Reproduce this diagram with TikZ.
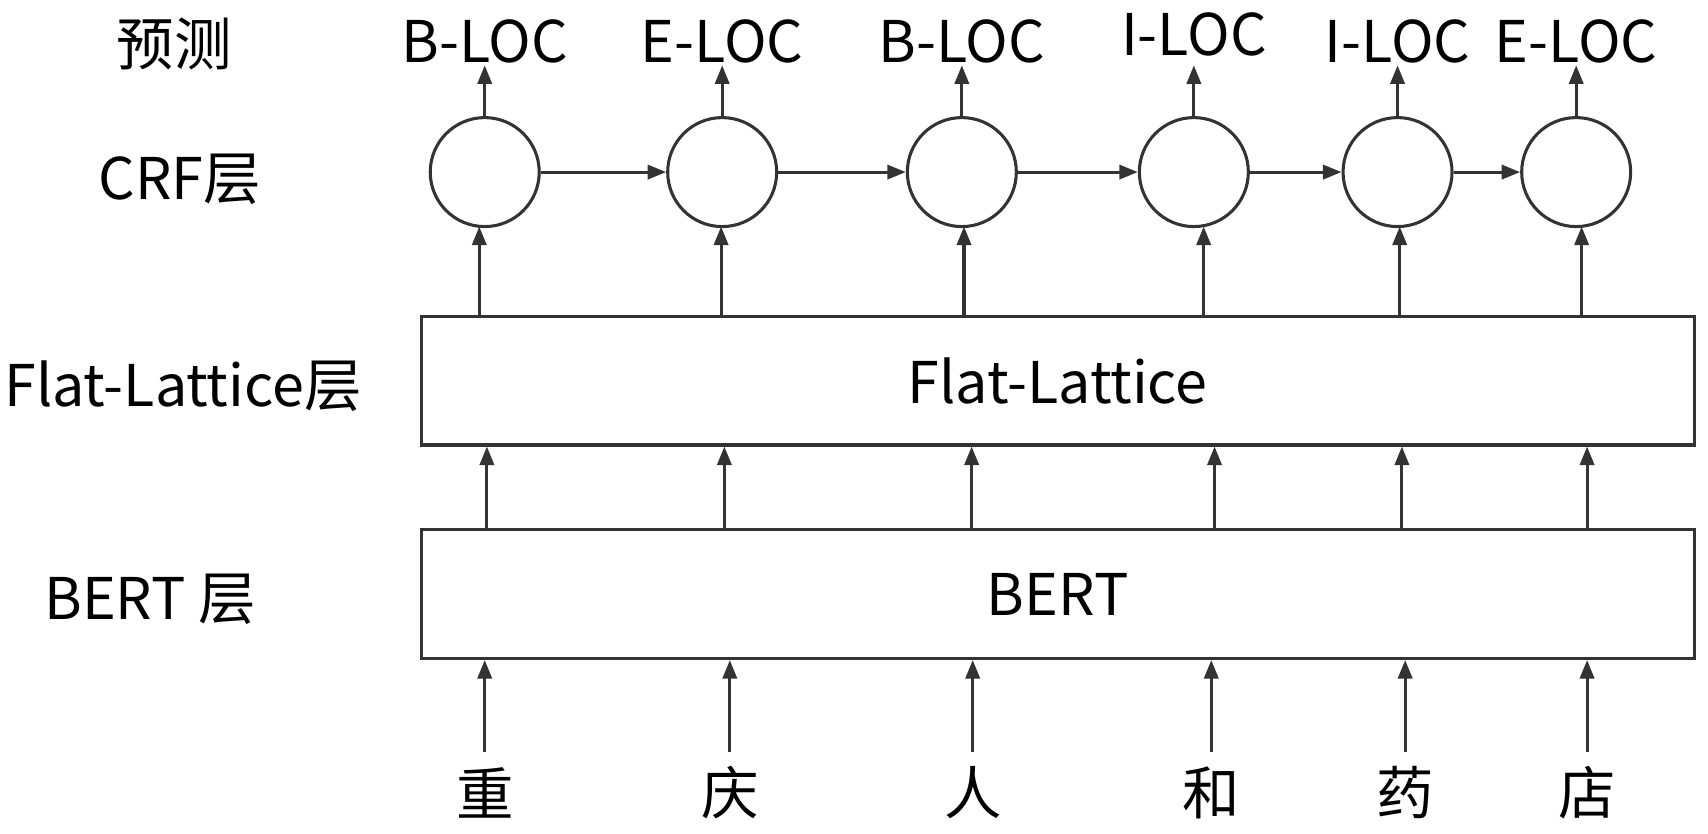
\documentclass[tikz,border=0pt]{standalone}
\usepackage{fontspec}
\setmainfont{Noto Sans CJK SC}
\usetikzlibrary{arrows.meta}
\begin{document}
\begin{tikzpicture}[x=0.01cm,y=-0.01cm,
  every node/.style={font=\fontsize{15}{17}\selectfont,inner sep=0pt},
  arr/.style={draw=black!80,line width=0.8pt,-{Triangle[length=0.17cm,width=0.13cm]}},
  crf/.style={circle,draw=black!80,line width=0.8pt,minimum size=1cm},
  layer/.style={draw=black!80,line width=0.8pt,minimum width=11.68cm,minimum height=1.18cm}]
\useasboundingbox (0,0) rectangle (1568,765);
\node at (160,40) (l1) {预测};
\node at (165,165) (l2) {CRF层};
\node at (168,355) (l3) {Flat-Lattice层};
\node at (138,550) (l4) {BERT 层};
\node[layer] (flat) at (971,349.5) {Flat-Lattice};
\node[layer] (bert) at (971,545.5) {BERT};
\foreach \i/\x/\lab/\ly in {1/445/B-LOC/38,2/663/E-LOC/38,3/883/B-LOC/38,4/1096/I-LOC/32,5/1283/I-LOC/38,6/1447/E-LOC/38}{
  \node[crf] (c\i) at (\x,158) {};
  \node (t\i) at (\x,\ly) {\lab};
  \draw[arr] (c\i.north) -- (\x,60);
}
\foreach \a/\b in {1/2,2/3,3/4,4/5,5/6}{\draw[arr] (c\a) -- (c\b);}
\foreach \i/\x in {1/440,2/662,3/885,4/1105,5/1285,6/1452}{
  \draw[arr] (flat.north -| \x,0) -- (\x,208);
}
\foreach \i/\x in {1/447,2/665,3/892,4/1115,5/1287,6/1457}{
  \draw[arr] (bert.north -| \x,0) -- (flat.south -| \x,0);
}
\foreach \i/\x/\ch in {1/445/重,2/670/庆,3/893/人,4/1112/和,5/1290/药,6/1457/店}{
  \node (w\i) at (\x,728) {\ch};
  \draw[arr] (\x,690) -- (bert.south -| \x,0);
}
\end{tikzpicture}
\end{document}
